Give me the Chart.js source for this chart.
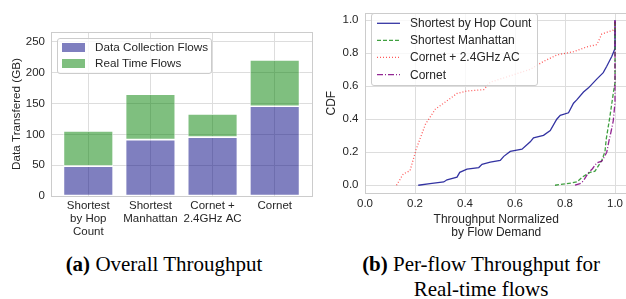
<!DOCTYPE html>
<html>
<head>
<meta charset="utf-8">
<script src="https://cdn.jsdelivr.net/npm/chart.js@4"></script>
<style>
  body { margin: 0; width: 626px; height: 299px; overflow: hidden; background: #fff; position: relative; font-family: "Liberation Sans", Arial, sans-serif; color: #262626; }
  canvas { position: absolute; top: 0; }
  .leg { position: absolute; border: 1px solid #cccccc; border-radius: 3px; background: rgba(255,255,255,0.8); box-sizing: border-box; }
  .lt { position: absolute; white-space: nowrap; line-height: 14px; }
  .sw { position: absolute; }
  .cap { position: absolute; top: 252px; text-align: center; font-family: "Liberation Serif", "Times New Roman", serif; font-size: 21px; line-height: 25px; color: #000; }
</style>
</head>
<body>
<canvas id="chartA" width="315" height="240" style="left:0"></canvas>
<canvas id="chartB" width="313" height="240" style="left:315px"></canvas>

<!-- legend (a) -->
<div class="leg" style="left:57px;top:38px;width:155px;height:36px"></div>
<div class="sw" style="left:62px;top:43px;width:23px;height:9px;background:rgba(0,0,128,0.5)"></div>
<div class="sw" style="left:62px;top:59px;width:23px;height:9px;background:rgba(0,128,0,0.5)"></div>
<div class="lt" style="left:95px;top:40px;font-size:11.7px">Data Collection Flows</div>
<div class="lt" style="left:95px;top:56px;font-size:11.7px">Real Time Flows</div>

<!-- legend (b) -->
<div class="leg" style="left:371px;top:13px;width:167px;height:73px"></div>
<svg class="sw" style="left:376px;top:14px" width="26" height="70">
  <line x1="1" x2="24" y1="9.3" y2="9.3" stroke="rgba(0,0,139,0.8)" stroke-width="1.3"/>
  <line x1="1" x2="24" y1="26.3" y2="26.3" stroke="rgba(0,128,0,0.75)" stroke-width="1.3" stroke-dasharray="4,2"/>
  <line x1="1" x2="24" y1="43.3" y2="43.3" stroke="rgba(255,0,0,0.65)" stroke-width="1.3" stroke-dasharray="1,2"/>
  <line x1="1" x2="24" y1="60.7" y2="60.7" stroke="rgba(128,0,128,0.85)" stroke-width="1.3" stroke-dasharray="6,2,1,2"/>
</svg>
<div class="lt" style="left:410px;top:16px;font-size:12px">Shortest by Hop Count</div>
<div class="lt" style="left:410px;top:33px;font-size:12px">Shortest Manhattan</div>
<div class="lt" style="left:410px;top:50px;font-size:12px">Cornet + 2.4GHz AC</div>
<div class="lt" style="left:410px;top:68px;font-size:12px">Cornet</div>

<div class="cap" style="left:0;width:328px"><b>(a)</b> Overall Throughput</div>
<div class="cap" style="left:336px;width:290px"><b>(b)</b> Per-flow Throughput for<br>Real-time flows</div>

<script>
// (a) overall throughput, GB
const categories = [["Shortest", "by Hop", "Count"], ["Shortest", "Manhattan"], ["Cornet +", "2.4GHz AC"], ["Cornet"]];
const collectionGB = [48.5, 91.5, 95.5, 145.5];
const realTimeGB = [57, 73.5, 37.5, 75];
const yTicksA = [0, 50, 100, 150, 200, 250];

// (b) CDF of normalized throughput
const hopX = [0.213, 0.26, 0.315, 0.328, 0.368, 0.379, 0.408, 0.455, 0.468, 0.501, 0.541, 0.555, 0.581, 0.628, 0.661, 0.674, 0.714, 0.741, 0.767, 0.781, 0.814, 0.834, 0.847, 0.874, 0.894, 0.927, 0.953, 0.967, 0.987, 1.0, 1.0];
const hopY = [0.0, 0.01, 0.02, 0.033, 0.049, 0.078, 0.097, 0.107, 0.127, 0.14, 0.15, 0.175, 0.205, 0.218, 0.263, 0.287, 0.302, 0.331, 0.4, 0.423, 0.439, 0.497, 0.517, 0.565, 0.59, 0.643, 0.682, 0.721, 0.78, 0.828, 1.0];
const manX = [0.76, 0.827, 0.847, 0.873, 0.9, 0.92, 0.947, 0.96, 0.965, 0.98, 0.993, 1.0, 1.0];
const manY = [0.0, 0.014, 0.02, 0.053, 0.078, 0.085, 0.15, 0.205, 0.28, 0.42, 0.556, 0.62, 1.0];
const acX = [0.126, 0.153, 0.18, 0.206, 0.242, 0.282, 0.315, 0.368, 0.408, 0.475, 0.501, 0.581, 0.661, 0.714, 0.767, 0.834, 0.887, 0.927, 0.933, 0.947, 0.993, 1.0, 1.0];
const acY = [0.0, 0.068, 0.088, 0.224, 0.37, 0.462, 0.497, 0.556, 0.571, 0.579, 0.624, 0.663, 0.702, 0.75, 0.789, 0.809, 0.838, 0.852, 0.87, 0.916, 0.94, 0.95, 1.0];
const cornetX = [0.84, 0.86, 0.873, 0.893, 0.91, 0.927, 0.947, 0.953, 0.967, 0.975, 0.985, 0.993, 1.0, 1.0];
const cornetY = [0.0, 0.01, 0.025, 0.075, 0.1, 0.136, 0.146, 0.16, 0.2, 0.263, 0.33, 0.39, 0.5, 1.0];
const xTicksB = [0, 0.2, 0.4, 0.6, 0.8, 1.0];
const yTicksB = [0, 0.2, 0.4, 0.6, 0.8, 1.0];

const gridCol = "#dddddd";
const tickFont = { family: "Liberation Sans", size: 11.5 };
const textCol = "#262626";

// draw the full frame round the plot area
const frame = {
    id: "frame",
    afterDraw(chart) {
        const a = chart.chartArea, ctx = chart.ctx;
        ctx.save();
        ctx.strokeStyle = "#cccccc";
        ctx.lineWidth = 1;
        ctx.strokeRect(Math.round(a.left) + 0.5, Math.round(a.top) + 0.5, Math.round(a.right - a.left), Math.round(a.bottom - a.top));
        ctx.restore();
    }
};

const pts = (xs, ys) => xs.map((x, i) => ({ x: x, y: ys[i] }));

// FOR CHART A
const configA = {
    type: "bar",
    data: {
        datasets: [
            {
                label: "Data Collection Flows",
                data: collectionGB.map((v, i) => ({ x: i, y: v })),
                backgroundColor: "rgba(0,0,128,0.5)",
                borderColor: "#ffffff",
                borderWidth: 0.8,
                borderSkipped: false,
                barPercentage: 0.8,
                categoryPercentage: 1,
            },
            {
                label: "Real Time Flows",
                data: realTimeGB.map((v, i) => ({ x: i, y: v })),
                backgroundColor: "rgba(0,128,0,0.5)",
                borderColor: "#ffffff",
                borderWidth: 0.8,
                borderSkipped: false,
                barPercentage: 0.8,
                categoryPercentage: 1,
            },
        ],
    },
    options: {
        responsive: false,
        animation: false,
        devicePixelRatio: 1,
        layout: { padding: { top: 32, right: 3, left: 0, bottom: 0 } },
        plugins: { legend: { display: false }, tooltip: { enabled: false } },
        scales: {
            x: {
                type: "linear",
                min: -0.6,
                max: 3.6,
                offset: false,
                stacked: true,
                border: { display: false },
                grid: { color: gridCol, drawTicks: false, offset: false },
                afterBuildTicks: s => { s.ticks = [0, 1, 2, 3].map(v => ({ value: v })); },
                afterFit: s => { s.height = 44; },
                ticks: {
                    padding: 3.5,
                    color: textCol,
                    font: { family: "Liberation Sans", size: 11.5, lineHeight: 1.13 },
                    maxRotation: 0,
                    autoSkip: false,
                    callback: v => categories[v],
                },
            },
            y: {
                min: 0,
                max: 266,
                stacked: true,
                border: { display: false },
                grid: { color: gridCol, drawTicks: false },
                afterBuildTicks: s => { s.ticks = yTicksA.map(v => ({ value: v })); },
                afterFit: s => { s.width = 51; },
                ticks: { padding: 6, color: textCol, font: tickFont },
                title: {
                    display: true,
                    text: "Data Transfered (GB)",
                    color: textCol,
                    font: { family: "Liberation Sans", size: 11.7 },
                    padding: { top: 9.7, bottom: 0 },
                },
            },
        },
    },
    plugins: [frame],
};

const myChartA = new Chart(document.getElementById("chartA"), configA);

// FOR CHART B
const lineBase = { pointRadius: 0, borderWidth: 1.3, tension: 0, fill: false };
const configB = {
    type: "line",
    data: {
        datasets: [
            Object.assign({ label: "Shortest by Hop Count", data: pts(hopX, hopY), borderColor: "rgba(0,0,139,0.8)", order: 4 }, lineBase),
            Object.assign({ label: "Shortest Manhattan", data: pts(manX, manY), borderColor: "rgba(0,128,0,0.75)", borderDash: [4, 2], order: 3 }, lineBase),
            Object.assign({ label: "Cornet + 2.4GHz AC", data: pts(acX, acY), borderColor: "rgba(255,0,0,0.65)", borderDash: [1, 2], order: 2 }, lineBase),
            Object.assign({ label: "Cornet", data: pts(cornetX, cornetY), borderColor: "rgba(128,0,128,0.85)", borderDash: [6, 2, 1, 2], order: 1 }, lineBase),
        ],
    },
    options: {
        responsive: false,
        animation: false,
        devicePixelRatio: 1,
        layout: { padding: { top: 7, right: 0.5, left: 0, bottom: 0 } },
        plugins: { legend: { display: false }, tooltip: { enabled: false } },
        scales: {
            x: {
                type: "linear",
                min: 0,
                max: 1.05,
                border: { display: false },
                grid: { color: gridCol, drawTicks: false },
                afterBuildTicks: s => { s.ticks = xTicksB.map(v => ({ value: v })); },
                afterFit: s => { s.height = 47; },
                ticks: { padding: 4, color: textCol, font: tickFont, maxRotation: 0, callback: v => v.toFixed(1) },
                title: {
                    display: true,
                    text: ["Throughput Normalized", "by Flow Demand"],
                    color: textCol,
                    font: { family: "Liberation Sans", size: 12, lineHeight: 1.04 },
                    padding: { top: 0, bottom: 1.5 },
                },
            },
            y: {
                min: -0.047,
                max: 1.041,
                border: { display: false },
                grid: { color: gridCol, drawTicks: false },
                afterBuildTicks: s => { s.ticks = yTicksB.map(v => ({ value: v })); },
                afterFit: s => { s.width = 50; },
                ticks: { padding: 6.5, color: textCol, font: tickFont, callback: v => v.toFixed(1) },
                title: {
                    display: true,
                    text: "CDF",
                    color: textCol,
                    font: { family: "Liberation Sans", size: 12 },
                    padding: { top: 9.5, bottom: 0 },
                },
            },
        },
    },
    plugins: [frame],
};

const myChartB = new Chart(document.getElementById("chartB"), configB);
</script>
</body>
</html>
